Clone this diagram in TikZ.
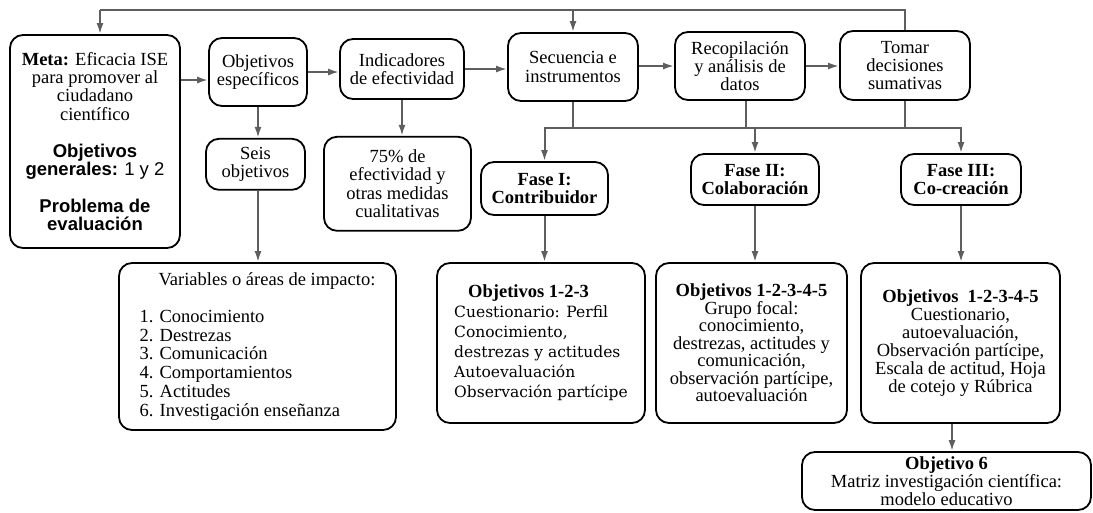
\documentclass[tikz,border=0pt]{standalone}
\usepackage{fontspec}
\setmainfont{Liberation Serif}
\setsansfont{Liberation Sans}
\newfontfamily\slabfont{DejaVu Serif}
\usepackage{tikz}
\usetikzlibrary{arrows.meta,positioning,calc}
\definecolor{Wire}{HTML}{5E5E5E}
\newcommand{\cellfont}{\fontsize{18.5pt}{18.3pt}\selectfont}

\begin{document}
\begin{tikzpicture}[
  x=1pt,y=-1pt,
  stage/.style={draw=black,line width=1.8pt,rounded corners=13pt,align=center,inner sep=0pt,font=\cellfont},
  line/.style={draw=Wire,line width=2pt},
  arrow/.style={line,-{Latex[length=11pt,width=7pt]}}
]
\useasboundingbox (0,0) rectangle (1093,512);
% evaluation chain
\node[stage,minimum width=170pt,minimum height=213pt] (meta) at (95,141.5)
  {\textbf{Meta:} Eficacia ISE\\para promover al\\ciudadano\\científico\\[19pt]
   {\sffamily\bfseries Objetivos}\\{\sffamily\bfseries generales:} {\sffamily 1 y 2}\\[18pt]
   {\sffamily\bfseries Problema de}\\{\sffamily\bfseries evaluación}};
\node[stage,minimum width=98pt,minimum height=68pt] (objesp) at (258,72) {Objetivos\\específicos};
\node[stage,minimum width=124pt,minimum height=60pt] (ind) at (402,69) {Indicadores\\de efectividad};
\node[stage,minimum width=130pt,minimum height=68pt] (sec) at (573,67) {Secuencia e\\instrumentos};
\node[stage,minimum width=130pt,minimum height=68pt] (recop) at (740,66) {Recopilación\\y análisis de\\datos};
\node[stage,minimum width=130pt,minimum height=69pt] (tomar) at (905,65.5) {Tomar\\decisiones\\sumativas};
\node[stage,minimum width=99pt,minimum height=51pt,below=31pt of objesp,xshift=-2.5pt] (seis) {Seis\\objetivos};
\node[stage,minimum width=147pt,minimum height=94pt,below=36pt of ind,xshift=-4.5pt] (pct) {75\% de\\efectividad y\\otras medidas\\cualitativas};
% fases
\node[stage,minimum width=127pt,minimum height=53pt] (faseI) at (544.5,188.5) {\textbf{Fase I:}\\\textbf{Contribuidor}};
\node[stage,minimum width=128pt,minimum height=51pt] (faseII) at (755,179.5) {\textbf{Fase II:}\\\textbf{Colaboración}};
\node[stage,minimum width=120pt,minimum height=51pt] (faseIII) at (961,179.5) {\textbf{Fase III:}\\\textbf{Co-creación}};
% instrumentos
\node[stage,minimum width=277pt,minimum height=167pt,align=left,font=\fontsize{18.5pt}{18.8pt}\selectfont] (vars) at (257.5,346.5)
  {\hspace*{19pt}Variables o áreas de impacto:\\[18pt]
   1. Conocimiento\\2. Destrezas\\3. Comunicación\\4. Comportamientos\\5. Actitudes\\6. Investigación enseñanza};
\node[stage,minimum width=208pt,minimum height=160pt,align=left,font=\fontsize{18.5pt}{20pt}\selectfont] (obja) at (541,343)
  {\hspace*{14pt}\textbf{Objetivos 1-2-3}\\
   {\slabfont\fontsize{15.5pt}{20pt}\selectfont Cuestionario: Perfil}\\
   {\slabfont\fontsize{15.5pt}{20pt}\selectfont Conocimiento,}\\
   {\slabfont\fontsize{15.5pt}{20pt}\selectfont destrezas y actitudes}\\
   {\slabfont\fontsize{15.5pt}{20pt}\selectfont Autoevaluación}\\
   {\slabfont\fontsize{15.5pt}{20pt}\selectfont Observación partícipe}};
\node[stage,minimum width=191pt,minimum height=160pt,font=\fontsize{18.5pt}{17.5pt}\selectfont] (objb) at (751.5,343)
  {\textbf{Objetivos 1-2-3-4-5}\\Grupo focal:\\conocimiento,\\destrezas, actitudes y\\comunicación,\\observación partícipe,\\autoevaluación};
\node[stage,minimum width=199pt,minimum height=160pt,font=\fontsize{18.5pt}{18pt}\selectfont] (objc) at (960.5,343)
  {\textbf{Objetivos\ \ 1-2-3-4-5}\\Cuestionario,\\autoevaluación,\\Observación partícipe,\\Escala de actitud, Hoja\\de cotejo y Rúbrica};
\node[stage,minimum width=289pt,minimum height=58pt,font=\fontsize{18.5pt}{16.7pt}\selectfont] (obj6) at (946.5,481)
  {\textbf{Objetivo 6}\\Matriz investigación científica:\\modelo educativo};
% connectors
\coordinate (loop) at (100,9.5);
\coordinate (bus) at (0,128);
\draw[line] (tomar.north) |- (loop);
\draw[arrow] (loop) -- (loop |- meta.north);
\draw[arrow] (sec.north |- loop) -- (sec.north);
\draw[arrow] (meta.east |- 0,80) -- (objesp.west |- 0,80);
\draw[arrow] (objesp.east) -- (objesp.east -| ind.west);
\draw[arrow] (ind.east) -- (ind.east -| sec.west);
\draw[arrow] (sec.east |- recop.west) -- (recop.west);
\draw[arrow] (recop.east) -- (recop.east -| tomar.west);
\draw[arrow] (objesp.south) -- (objesp.south |- seis.north);
\draw[arrow] (objesp.south |- seis.south) -- (objesp.south |- vars.north);
\draw[arrow] (ind.south) -- (ind.south |- pct.north);
\draw[line] (sec.south) -- (sec.south |- bus);
\draw[line] ([xshift=6pt]recop.south) -- ([xshift=6pt]recop.south |- bus);
\draw[line] (tomar.south) -- (tomar.south |- bus);
\draw[line] (sec.south |- bus) -- (tomar.south |- bus);
\draw[arrow] (sec.south |- bus) -| (faseI.north);
\draw[arrow] (tomar.south |- bus) -| (faseIII.north);
\draw[arrow] (faseII.north |- bus) -- (faseII.north);
\draw[arrow] (faseI.south) -- (faseI.south |- obja.north);
\draw[arrow] (faseII.south) -- (faseII.south |- objb.north);
\draw[arrow] (faseIII.south) -- (faseIII.south |- objc.north);
\draw[arrow] ([xshift=-8.5pt]objc.south) -- ([xshift=-8.5pt]objc.south |- obj6.north);
\end{tikzpicture}
\end{document}
